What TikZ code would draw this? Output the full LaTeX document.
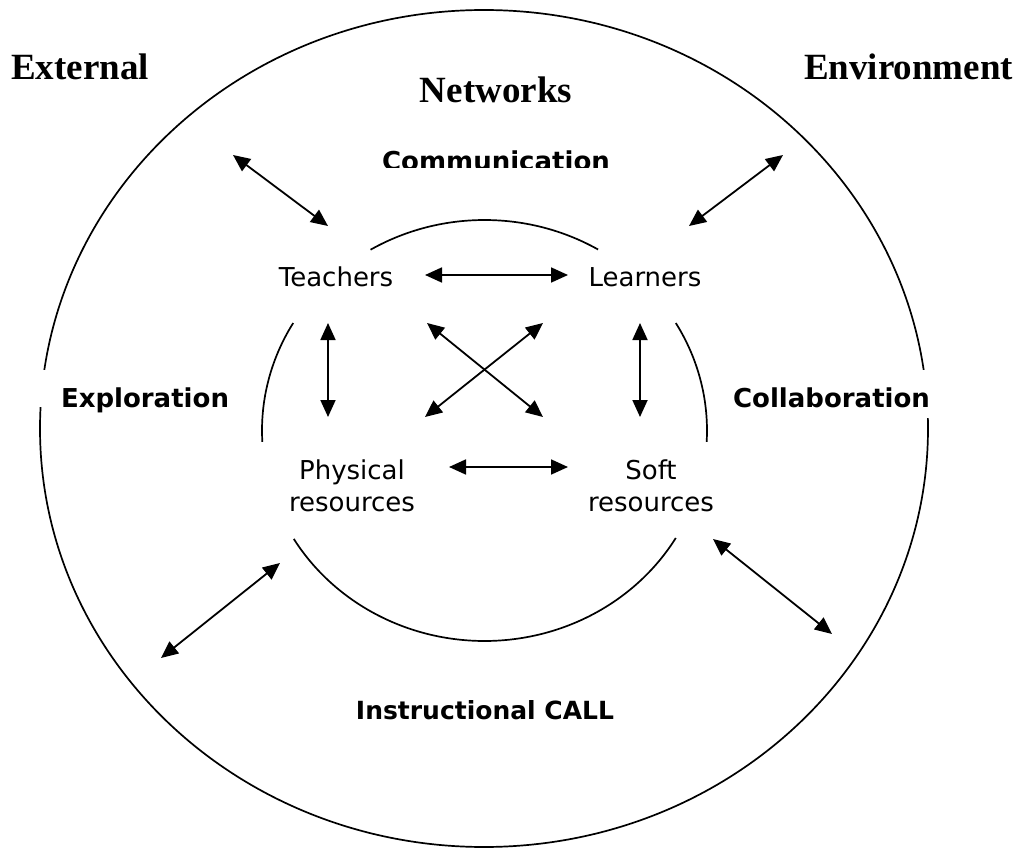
\documentclass[tikz,border=0pt]{standalone}
\usepackage{fontspec}
\setmainfont{Liberation Serif}
\newfontfamily\dvs{DejaVu Sans}
\usetikzlibrary{arrows.meta}
\begin{document}
\begin{tikzpicture}[x=1pt,y=-1pt,
  ring/.style={line width=1.7pt},
  link/.style={line width=1.8pt,{Triangle[length=17pt,width=15pt]}-{Triangle[length=17pt,width=15pt]}},
  title/.style={font=\fontsize{37}{44}\selectfont\bfseries, anchor=base, inner sep=0pt},
  actor/.style={font=\dvs\fontsize{26}{32}\selectfont, anchor=base, inner sep=0pt, align=center},
  mode/.style={font=\dvs\bfseries\fontsize{26}{32}\selectfont, anchor=base, inner sep=0pt},
]
\useasboundingbox (0,0) rectangle (1021,848);
\fill[white] (0,0) rectangle (1021,848);

% outer environment ellipse
\draw[ring] (484,428.5) ellipse [x radius=444, y radius=418.5];

% inner ellipse, four arcs
\draw[ring] plot[domain=239.2:300.7, samples=60, smooth] ({484.5+222.5*cos(\x)},{430.5+210.5*sin(\x)});
\draw[ring] plot[domain=176.9:210.7, samples=40, smooth] ({484.5+222.5*cos(\x)},{430.5+210.5*sin(\x)});
\draw[ring] plot[domain=-30.7:3.1, samples=40, smooth] ({484.5+222.5*cos(\x)},{430.5+210.5*sin(\x)});
\draw[ring] plot[domain=30.7:149, samples=80, smooth] ({484.5+222.5*cos(\x)},{430.5+210.5*sin(\x)});

% titles
\node[title] (external) at (80,80) {External};
\node[title] (networks) at (496,103) {Networks};
\node[title] (environment) at (908.5,80) {Environment};

% modes
\begin{scope}
  \clip (300,120) rectangle (700,168);
  \node[mode] (communication) at (496,171) {Communication};
\end{scope}
\node[mode, fill=white, text height=37pt, text depth=0pt, inner xsep=23pt] (exploration) at (145,407) {Exploration};
\node[mode, fill=white, text height=37pt, text depth=11pt, inner xsep=3pt] (collaboration) at (831.5,407) {Collaboration};
\node[mode, font=\dvs\bfseries\fontsize{25}{30}\selectfont] (instructional) at (485,719) {Instructional CALL};

% actors
\node[actor] (teachers) at (336,287) {Teachers};
\node[actor] (learners) at (645,287) {Learners};
\node[actor] (physical) at (352,511) {Physical\\resources};
\node[actor] (soft) at (651,511) {Soft\\resources};

% arrow end points
\coordinate (tlOut) at (233,155);  \coordinate (tlIn) at (328,226);
\coordinate (trOut) at (783,155);  \coordinate (trIn) at (689,226);
\coordinate (tlR) at (425,275);    \coordinate (lrL) at (568,275);
\coordinate (tpT) at (328,323);    \coordinate (tpB) at (328,417);
\coordinate (lsT) at (640,323);    \coordinate (lsB) at (640,417);
\coordinate (xaT) at (427,323);    \coordinate (xaB) at (543,417);
\coordinate (xbT) at (543,323);    \coordinate (xbB) at (425,417);
\coordinate (psL) at (449,467);    \coordinate (psR) at (568,467);
\coordinate (blIn) at (280,563);   \coordinate (blOut) at (161,658);
\coordinate (brIn) at (713,539);   \coordinate (brOut) at (832,634);

\draw[link] (tlOut) -- (tlIn);
\draw[link] (trOut) -- (trIn);
\draw[link] (tlR) -- (lrL);
\draw[link] (tpT) -- (tpB);
\draw[link] (lsT) -- (lsB);
\draw[link] (xaT) -- (xaB);
\draw[link] (xbT) -- (xbB);
\draw[link] (psL) -- (psR);
\draw[link] (blIn) -- (blOut);
\draw[link] (brIn) -- (brOut);
\end{tikzpicture}
\end{document}
